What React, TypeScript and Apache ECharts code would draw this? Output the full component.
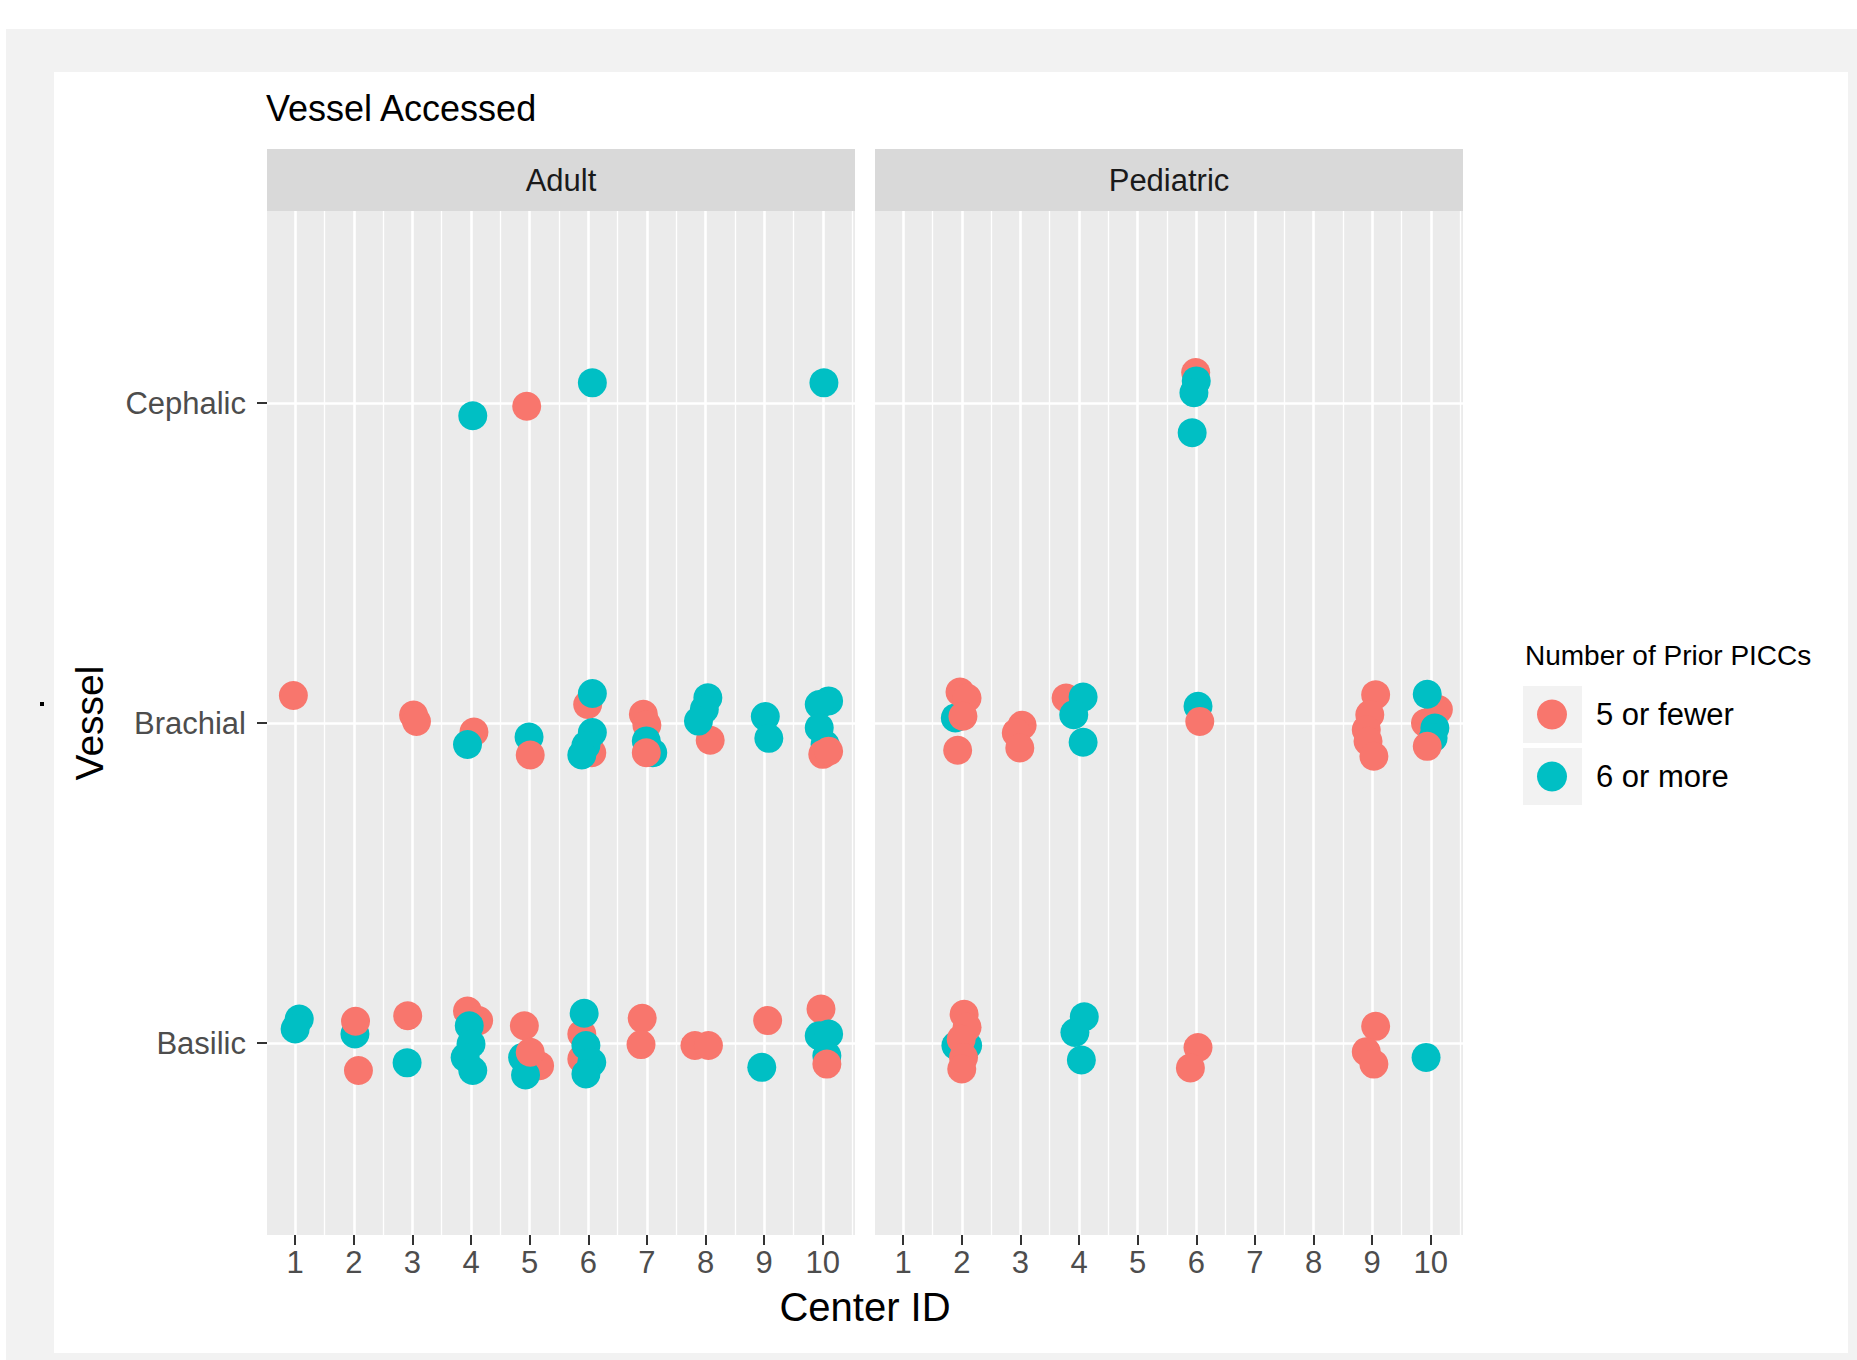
import React, { useEffect, useRef } from "react";
import * as echarts from "echarts";

const FONT = "'Liberation Sans', Arial, Helvetica, sans-serif";

// y levels: 1 = Basilic, 2 = Brachial, 3 = Cephalic
const vesselLevels = ["Basilic", "Brachial", "Cephalic"];
const vesselTicks = [1, 2, 3];
const centerTicks = [1, 2, 3, 4, 5, 6, 7, 8, 9, 10];
const centerMinor = [1.5, 2.5, 3.5, 4.5, 5.5, 6.5, 7.5, 8.5, 9.5, 10.5];
const panelNames = ["Adult", "Pediatric"];
const groupNames = ["5 or fewer", "6 or more"];
const groupColors = ["#F8766D", "#00BFC4"];

// jittered points [Center ID, Vessel level]
const adultFewer = [
  [4.95, 2.99],
  [0.97, 2.086], [3.02, 2.025], [3.07, 2.005], [4.05, 1.972], [5.99, 2.058], [6.06, 1.907],
  [6.94, 2.027], [7.0, 1.994], [8.08, 1.946],
  [2.08, 0.914], [2.92, 1.085], [3.94, 1.1], [4.13, 1.07], [4.91, 1.054], [5.17, 0.929],
  [5.89, 1.028], [5.89, 0.95], [6.92, 1.077], [6.9, 0.995], [7.82, 0.992], [8.05, 0.992],
  [9.06, 1.07], [9.97, 1.106],
];
const adultMore = [
  [4.03, 2.96], [6.07, 3.063], [10.02, 3.063],
  [3.94, 1.933], [4.99, 1.956], [6.07, 2.092], [6.07, 1.97], [5.96, 1.93], [5.89, 1.9],
  [6.99, 1.944], [7.1, 1.907], [8.04, 2.079], [7.98, 2.043], [7.88, 2.006], [9.02, 2.02],
  [9.08, 1.952], [10.1, 2.069], [9.94, 2.058], [9.94, 1.985], [10.04, 1.933],
  [1.07, 1.075], [1.0, 1.044], [2.02, 1.028], [2.91, 0.938], [3.97, 1.054], [4.0, 0.997],
  [3.9, 0.955], [4.03, 0.914], [4.88, 0.955], [4.93, 0.9], [5.93, 1.093], [5.96, 0.992],
  [6.06, 0.94], [5.96, 0.903], [8.96, 0.924], [9.94, 1.023], [10.1, 1.028], [10.07, 0.96],
];
const adultFewerTop = [
  [5.01, 1.9], [6.99, 1.907], [10.0, 1.902], [10.1, 1.912],
  [2.03, 1.068], [5.01, 0.971], [10.07, 0.934],
];
const pedFewer = [
  [5.99, 3.095],
  [3.03, 1.993], [2.93, 1.969], [2.99, 1.922], [3.78, 2.078], [9.06, 2.088], [8.96, 2.026],
  [8.9, 1.979], [8.93, 1.943], [9.03, 1.896], [10.13, 2.042], [9.91, 2.0],
  [6.03, 0.986], [5.9, 0.922], [9.06, 1.052], [8.9, 0.973], [9.03, 0.934],
];
const pedMore = [
  [6.0, 3.069], [5.96, 3.032], [5.93, 2.907],
  [1.89, 2.016], [4.07, 2.081], [3.91, 2.026], [4.07, 1.94], [6.03, 2.052], [9.94, 2.09],
  [10.07, 1.984], [10.04, 1.953],
  [1.9, 0.992], [2.1, 0.992], [4.09, 1.082], [3.93, 1.033], [4.04, 0.947], [9.92, 0.955],
];
const pedFewerTop = [
  [1.97, 2.097], [2.09, 2.078], [2.02, 2.021], [1.93, 1.915], [6.06, 2.005], [9.94, 1.927],
  [2.04, 1.09], [2.09, 1.049], [1.99, 1.012], [2.03, 0.955], [2.0, 0.919],
];

const panelData = [
  [adultFewer, adultMore, adultFewerTop],
  [pedFewer, pedMore, pedFewerTop],
];

const gridBoxes = [
  { left: 267, width: 588 },
  { left: 875, width: 588 },
];
const GRID_TOP = 211;
const GRID_H = 1024;

export default function App() {
  const ref = useRef<HTMLDivElement>(null);

  useEffect(() => {
    if (!ref.current) return;
    const chart = echarts.init(ref.current, undefined, { renderer: "svg" });

    const gridLines = [
      ...centerMinor.map((v) => ({ xAxis: v, lineStyle: { color: "#ffffff", width: 1.3, type: "solid" } })),
      ...centerTicks.map((v) => ({ xAxis: v, lineStyle: { color: "#ffffff", width: 2.6, type: "solid" } })),
      ...vesselTicks.map((v) => ({ yAxis: v, lineStyle: { color: "#ffffff", width: 2.6, type: "solid" } })),
    ];

    const series: any[] = [];
    panelNames.forEach((_, i) => {
      series.push({
        type: "scatter",
        name: "grid-" + i,
        xAxisIndex: i,
        yAxisIndex: i,
        data: [],
        silent: true,
        z: 1,
        markLine: {
          silent: true,
          z: 1,
          symbol: ["none", "none"],
          label: { show: false },
          emphasis: { disabled: true },
          lineStyle: { type: "solid", color: "#ffffff" },
          data: gridLines,
        },
      });
      const [fewer, more, fewerTop] = panelData[i];
      const layers = [
        { d: fewer, g: 0, z: 10 },
        { d: more, g: 1, z: 11 },
        { d: fewerTop, g: 0, z: 12 },
      ];
      layers.forEach((l) => {
        series.push({
          type: "scatter",
          name: groupNames[l.g],
          xAxisIndex: i,
          yAxisIndex: i,
          data: l.d,
          symbol: "circle",
          symbolSize: 29,
          z: l.z,
          itemStyle: { color: groupColors[l.g], opacity: 1 },
          emphasis: { disabled: true },
        });
      });
    });

    const option: any = {
      animation: false,
      title: {
        text: "Vessel Accessed",
        left: 266,
        top: 90,
        padding: 0,
        textStyle: { fontSize: 36, fontWeight: "normal", color: "#000000", fontFamily: FONT },
      },
      legend: {
        data: groupNames,
        orient: "vertical",
        left: 1537,
        top: 699,
        padding: 0,
        itemWidth: 78,
        itemHeight: 30,
        itemGap: 31,
        icon: "circle",
        selectedMode: false,
        textStyle: { fontSize: 31, color: "#000000", fontFamily: FONT },
      },
      grid: gridBoxes.map((g) => ({
        left: g.left,
        width: g.width,
        top: GRID_TOP,
        height: GRID_H,
        show: true,
        backgroundColor: "#ebebeb",
        borderWidth: 0,
        containLabel: false,
      })),
      xAxis: gridBoxes.map((_, i) => ({
        type: "value",
        gridIndex: i,
        min: 0.52,
        max: 10.55,
        axisLine: { show: false },
        splitLine: { show: false },
        axisTick: { show: true, customValues: centerTicks, length: 10, lineStyle: { color: "#333333", width: 2 } },
        axisLabel: {
          customValues: centerTicks,
          margin: 12,
          fontSize: 31,
          color: "#4d4d4d",
          fontFamily: FONT,
          formatter: (v: number) => String(v),
        },
      })),
      yAxis: gridBoxes.map((_, i) => ({
        type: "value",
        gridIndex: i,
        min: 0.4,
        max: 3.6,
        axisLine: { show: false },
        splitLine: { show: false },
        axisTick: {
          show: i === 0,
          customValues: vesselTicks,
          length: 10,
          lineStyle: { color: "#333333", width: 2 },
        },
        axisLabel: {
          show: i === 0,
          customValues: vesselTicks,
          margin: 21,
          fontSize: 31,
          color: "#4d4d4d",
          fontFamily: FONT,
          formatter: (v: number) => vesselLevels[Math.round(v) - 1],
        },
        name: i === 0 ? "Vessel" : "",
        nameLocation: "middle",
        nameGap: 158,
        nameRotate: 90,
        nameTextStyle: { fontSize: 39, color: "#000000", fontFamily: FONT },
      })),
      graphic: [
        ...gridBoxes.map((g, i) => ({
          type: "group",
          children: [
            { type: "rect", shape: { x: g.left, y: 149, width: g.width, height: 62 }, style: { fill: "#d9d9d9" } },
            {
              type: "text",
              x: g.left + g.width / 2,
              y: 180,
              style: {
                text: panelNames[i],
                fontSize: 31,
                fontFamily: FONT,
                fill: "#1a1a1a",
                align: "center",
                verticalAlign: "middle",
                textAlign: "center",
                textVerticalAlign: "middle",
              },
            },
          ],
        })),
        {
          type: "text",
          x: 865,
          y: 1307,
          style: {
            text: "Center ID",
            fontSize: 40,
            fontFamily: FONT,
            fill: "#000000",
            align: "center",
            verticalAlign: "middle",
            textAlign: "center",
            textVerticalAlign: "middle",
          },
        },
        {
          type: "text",
          x: 1525,
          y: 655,
          style: {
            text: "Number of Prior PICCs",
            fontSize: 28,
            fontFamily: FONT,
            fill: "#000000",
            align: "left",
            verticalAlign: "middle",
            textAlign: "left",
            textVerticalAlign: "middle",
          },
        },
        { type: "rect", shape: { x: 1523, y: 686, width: 59, height: 57 }, style: { fill: "#f2f2f2" } },
        { type: "rect", shape: { x: 1523, y: 748, width: 59, height: 57 }, style: { fill: "#f2f2f2" } },
        { type: "rect", shape: { x: 40, y: 702, width: 4, height: 4 }, style: { fill: "#000000" } },
      ],
      series,
    };

    chart.setOption(option);
    return () => chart.dispose();
  }, []);

  return (
    <div style={{ position: "fixed", left: 0, top: 0, width: 1857, height: 1360, background: "#ffffff" }}>
      <div style={{ position: "absolute", left: 6, top: 29, width: 1851, height: 1331, background: "#f2f2f2" }} />
      <div style={{ position: "absolute", left: 54, top: 72, width: 1794, height: 1281, background: "#ffffff" }} />
      <div ref={ref} style={{ position: "absolute", left: 0, top: 0, width: 1857, height: 1360 }} />
    </div>
  );
}
